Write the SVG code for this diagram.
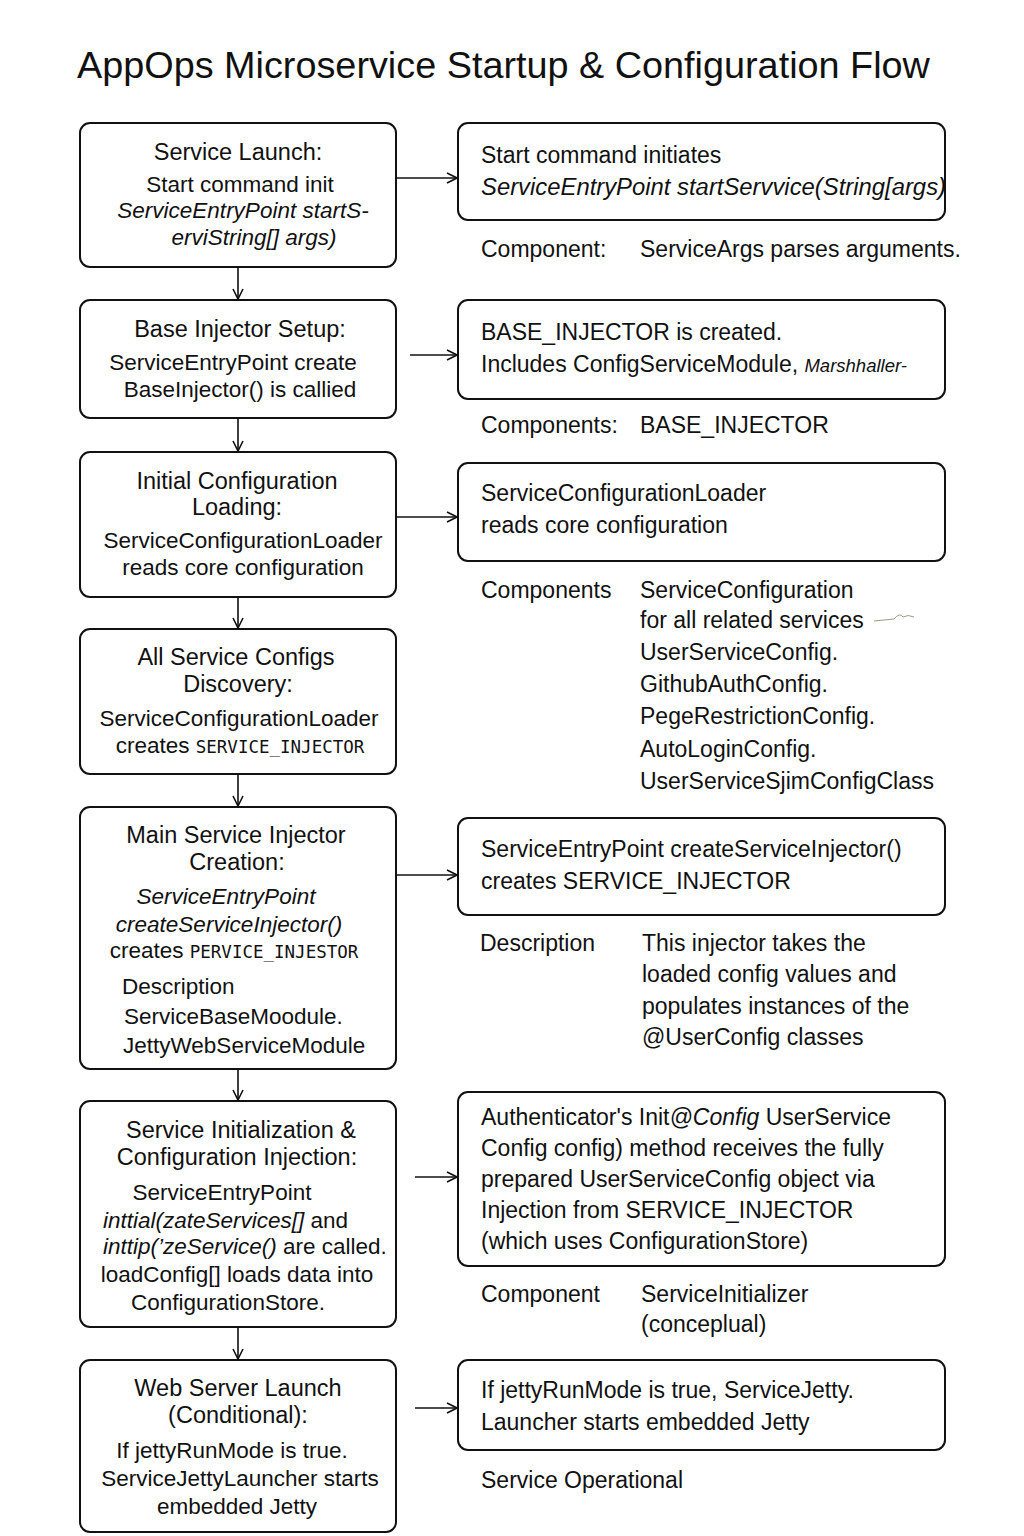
<svg xmlns="http://www.w3.org/2000/svg" width="1024" height="1536" viewBox="0 0 1024 1536">
<defs>
<marker id="arr" viewBox="0 0 12 12" refX="11" refY="6" markerWidth="12" markerHeight="12" markerUnits="userSpaceOnUse" orient="auto">
<path d="M1,1 L11,6 L1,11" fill="none" stroke="#111" stroke-width="1.6"/>
</marker>
<style>
.box{fill:#fff;stroke:#111;stroke-width:2}
.t{font-family:"Liberation Sans",Arial,sans-serif;font-size:23px;fill:#111}
.c{text-anchor:middle}
.h{font-size:23.5px}
.s{font-size:22.5px}
.i{font-style:italic}
.m{font-family:"DejaVu Sans Mono","Liberation Mono",monospace;font-size:17.5px}
.ln{stroke:#111;stroke-width:1.6;fill:none}
</style>
</defs>
<rect width="1024" height="1536" fill="#fff"/>
<text x="77" y="78" class="t" style="font-size:37.8px">AppOps Microservice Startup &amp; Configuration Flow</text>

<g id="n1">
<rect class="box" x="80" y="123" width="316" height="144" rx="10"/>
<text class="t c h" x="238" y="160">Service Launch:</text>
<text class="t c s" x="240" y="192">Start command init</text>
<text class="t c s i" x="243" y="218">ServiceEntryPoint startS-</text>
<text class="t c s i" x="254" y="245">erviString[] args)</text>
</g>
<g id="r1">
<rect class="box" x="458" y="123" width="487" height="97" rx="10"/>
<text class="t" x="481" y="163">Start command initiates</text>
<text class="t i" x="481" y="195" textLength="465" lengthAdjust="spacingAndGlyphs">ServiceEntryPoint startServvice(String[args)</text>
</g>
<g id="c1">
<text class="t" x="481" y="257">Component:</text>
<text class="t" x="640" y="257">ServiceArgs parses arguments.</text>
</g>

<g id="n2">
<rect class="box" x="80" y="300" width="316" height="118" rx="10"/>
<text class="t c h" x="240" y="337">Base Injector Setup:</text>
<text class="t c s" x="233" y="370">ServiceEntryPoint create</text>
<text class="t c s" x="240" y="397">BaseInjector() is callied</text>
</g>
<g id="r2">
<rect class="box" x="458" y="300" width="487" height="99" rx="10"/>
<text class="t" x="481" y="340">BASE_INJECTOR is created.</text>
<text class="t" x="481" y="372">Includes ConfigServiceModule, <tspan class="i" style="font-size:18.5px">Marshhaller-</tspan></text>
</g>
<g id="c2">
<text class="t" x="481" y="433">Components:</text>
<text class="t" x="640" y="433">BASE_INJECTOR</text>
</g>

<g id="n3">
<rect class="box" x="80" y="452" width="316" height="145" rx="10"/>
<text class="t c h" x="237" y="489">Initial Configuration</text>
<text class="t c h" x="237" y="515">Loading:</text>
<text class="t c s" x="243" y="548">ServiceConfigurationLoader</text>
<text class="t c s" x="243" y="575">reads core configuration</text>
</g>
<g id="r3">
<rect class="box" x="458" y="463" width="487" height="98" rx="10"/>
<text class="t" x="481" y="501">ServiceConfigurationLoader</text>
<text class="t" x="481" y="533">reads core configuration</text>
</g>
<g id="c3">
<text class="t" x="481" y="598">Components</text>
<text class="t" x="640" y="598">ServiceConfiguration</text>
<text class="t" x="640" y="628">for all related services</text>
<text class="t" x="640" y="660">UserServiceConfig.</text>
<text class="t" x="640" y="692">GithubAuthConfig.</text>
<text class="t" x="640" y="724">PegeRestrictionConfig.</text>
<text class="t" x="640" y="757">AutoLoginConfig.</text>
<text class="t" x="640" y="789">UserServiceSjimConfigClass</text>
<path d="M874,621 L894,619 Q900,612 903,617 Q908,614 914,617" fill="none" stroke="#9a9a8a" stroke-width="1"/>
</g>

<g id="n4">
<rect class="box" x="80" y="629" width="316" height="145" rx="10"/>
<text class="t c h" x="236" y="665">All Service Configs</text>
<text class="t c h" x="238" y="692">Discovery:</text>
<text class="t c s" x="239" y="726">ServiceConfigurationLoader</text>
<text class="t c s" x="240" y="753">creates <tspan class="m">SERVICE_INJECTOR</tspan></text>
</g>

<g id="n5">
<rect class="box" x="80" y="807" width="316" height="262" rx="10"/>
<text class="t c h" x="236" y="843">Main Service Injector</text>
<text class="t c h" x="237" y="870">Creation:</text>
<text class="t c s i" x="226" y="904">ServiceEntryPoint</text>
<text class="t c s i" x="229" y="932">createServiceInjector()</text>
<text class="t c s" x="234" y="958">creates <tspan class="m">PERVICE_INJESTOR</tspan></text>
<text class="t s" x="122" y="994">Description</text>
<text class="t s" x="124" y="1024">ServiceBaseMoodule.</text>
<text class="t s" x="123" y="1053">JettyWebServiceModule</text>
</g>
<g id="r4">
<rect class="box" x="458" y="818" width="487" height="97" rx="10"/>
<text class="t" x="481" y="857">ServiceEntryPoint createServiceInjector()</text>
<text class="t" x="481" y="889">creates SERVICE_INJECTOR</text>
</g>
<g id="c4">
<text class="t" x="480" y="951">Description</text>
<text class="t" x="642" y="951">This injector takes the</text>
<text class="t" x="642" y="982">loaded config values and</text>
<text class="t" x="642" y="1014">populates instances of the</text>
<text class="t" x="642" y="1045">@UserConfig classes</text>
</g>

<g id="n6">
<rect class="box" x="80" y="1101" width="316" height="226" rx="10"/>
<text class="t c h" x="241" y="1138">Service Initialization &amp;</text>
<text class="t c h" x="237" y="1165">Configuration Injection:</text>
<text class="t c s" x="222" y="1200">ServiceEntryPoint</text>
<text class="t s" x="103" y="1228"><tspan class="i">inttial(zateServices[]</tspan> and</text>
<text class="t s" x="103" y="1254"><tspan class="i">inttip(’zeService()</tspan> are called.</text>
<text class="t c s" x="237" y="1282">loadConfig[] loads data into</text>
<text class="t c s" x="228" y="1310">ConfigurationStore.</text>
</g>
<g id="r5">
<rect class="box" x="458" y="1092" width="487" height="174" rx="10"/>
<text class="t" x="481" y="1125">Authenticator's Init<tspan class="i">@Config</tspan> UserService</text>
<text class="t" x="481" y="1156">Config config) method receives the fully</text>
<text class="t" x="481" y="1187">prepared UserServiceConfig object via</text>
<text class="t" x="481" y="1218">Injection from SERVICE_INJECTOR</text>
<text class="t" x="481" y="1249">(which uses ConfigurationStore)</text>
</g>
<g id="c5">
<text class="t" x="481" y="1302">Component</text>
<text class="t" x="641" y="1302">ServiceInitializer</text>
<text class="t" x="641" y="1332">(conceplual)</text>
</g>

<g id="n7">
<rect class="box" x="80" y="1360" width="316" height="172" rx="10"/>
<text class="t c h" x="238" y="1396">Web Server Launch</text>
<text class="t c h" x="238" y="1423">(Conditional):</text>
<text class="t c s" x="232" y="1458">If jettyRunMode is true.</text>
<text class="t c s" x="240" y="1486">ServiceJettyLauncher starts</text>
<text class="t c s" x="237" y="1514">embedded Jetty</text>
</g>
<g id="r6">
<rect class="box" x="458" y="1360" width="487" height="90" rx="10"/>
<text class="t" x="481" y="1398">If jettyRunMode is true, ServiceJetty.</text>
<text class="t" x="481" y="1430">Launcher starts embedded Jetty</text>
</g>
<g id="c6">
<text class="t" x="481" y="1488">Service Operational</text>
</g>

<g id="connectors">
<line class="ln" x1="238" y1="267" x2="238" y2="299" marker-end="url(#arr)"/>
<line class="ln" x1="238" y1="418" x2="238" y2="451" marker-end="url(#arr)"/>
<line class="ln" x1="238" y1="597" x2="238" y2="628" marker-end="url(#arr)"/>
<line class="ln" x1="238" y1="774" x2="238" y2="806" marker-end="url(#arr)"/>
<line class="ln" x1="238" y1="1069" x2="238" y2="1100" marker-end="url(#arr)"/>
<line class="ln" x1="238" y1="1327" x2="238" y2="1359" marker-end="url(#arr)"/>
<line class="ln" x1="396" y1="178" x2="457" y2="178" marker-end="url(#arr)"/>
<line class="ln" x1="410" y1="355" x2="457" y2="355" marker-end="url(#arr)"/>
<line class="ln" x1="396" y1="517" x2="457" y2="517" marker-end="url(#arr)"/>
<line class="ln" x1="396" y1="875" x2="457" y2="875" marker-end="url(#arr)"/>
<line class="ln" x1="415" y1="1177" x2="457" y2="1177" marker-end="url(#arr)"/>
<line class="ln" x1="415" y1="1408" x2="457" y2="1408" marker-end="url(#arr)"/>
</g>
</svg>
